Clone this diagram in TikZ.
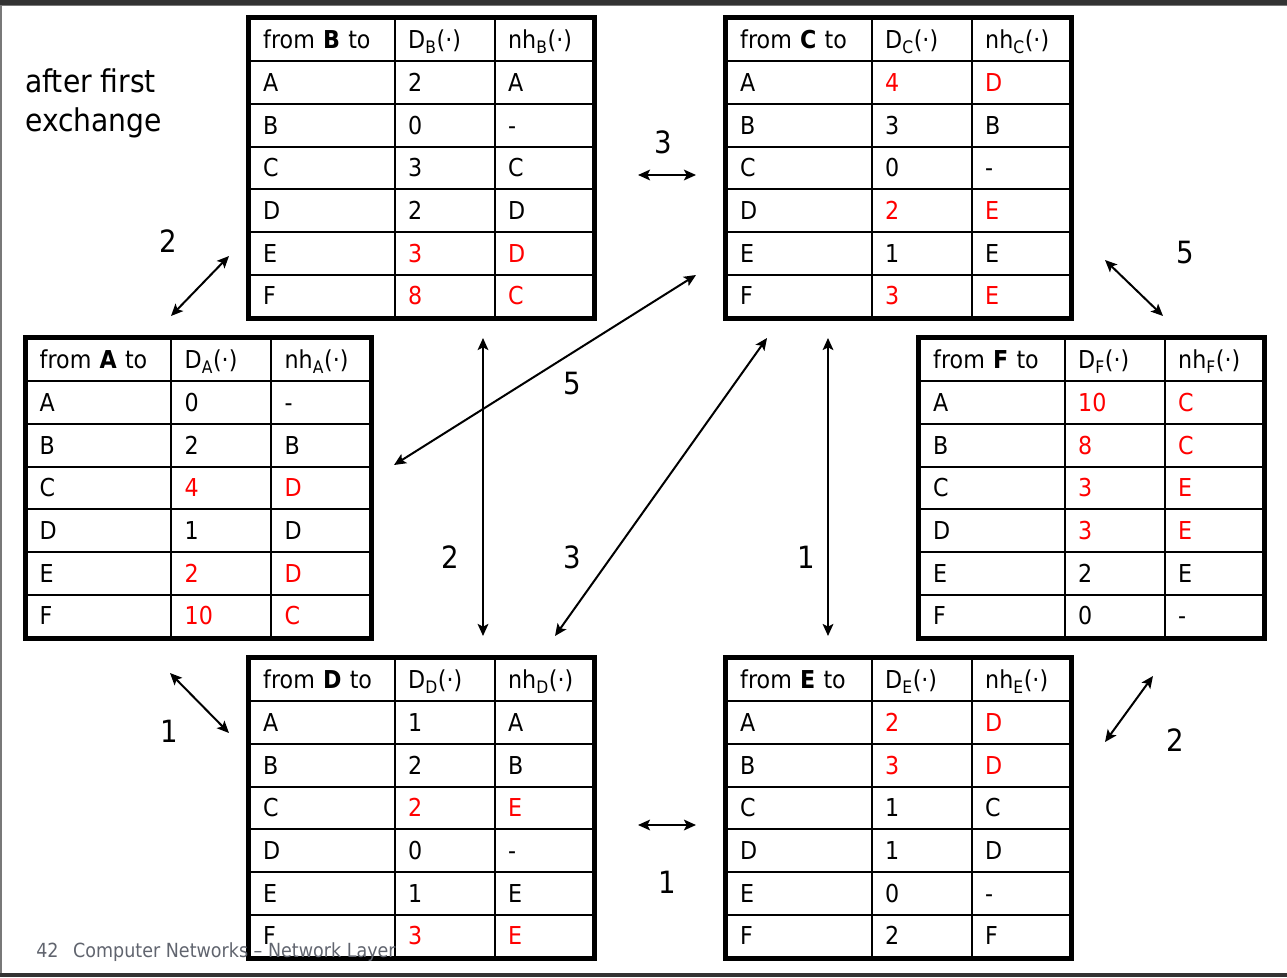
\documentclass[tikz,border=0pt]{standalone}
\usepackage{fontspec}
\setmainfont{DejaVu Sans}[FakeStretch=0.9]
\usetikzlibrary{matrix,arrows.meta}
\definecolor{barcol}{RGB}{51,51,51}
\definecolor{edgegray}{RGB}{120,120,120}
\definecolor{footgray}{RGB}{96,100,110}
\newcommand\cellfont{\fontsize{18.5pt}{22pt}\selectfont}
\newcommand\costfont{\fontsize{23pt}{28pt}\selectfont}
\newcommand\notefont{\fontsize{23.5pt}{29.25pt}\selectfont}
\newcommand\slidefoot{\fontsize{14.6pt}{18pt}\selectfont}

\begin{document}
\begin{tikzpicture}[x=0.75pt,y=-0.75pt,
    rtable/.style={matrix of nodes, anchor=north west, inner sep=0pt,
      column sep=-1.5pt, row sep=-1.5pt,
      nodes={draw, line width=1.5pt, minimum height=32pt, inner xsep=10.1pt, inner ysep=0pt,
        align=left, text height=14pt, text depth=1pt, font=\cellfont},
      column 1/.style={nodes={text width=88.5pt}},
      column 2/.style={nodes={text width=54.8pt}},
      column 3/.style={nodes={text width=54pt}}},
    tabframe/.style={line width=3.75pt},
    upd/.style={text=red},
    link/.style={{Stealth[length=9pt,width=8pt,inset=2pt]}-{Stealth[length=9pt,width=8pt,inset=2pt]}, line width=1.5pt},
    cost/.style={font=\costfont, inner sep=0pt}]

    \useasboundingbox (0,0) rectangle (1287,977);

    % slide frame
    \fill[barcol] (0,0) rectangle (1287,5);
    \draw[edgegray, line width=0.75pt] (0,5.5) -- (1287,5.5);
    \draw[edgegray, line width=1.2pt] (0.8,5) -- (0.8,973);
    \fill[barcol] (0,973) rectangle (1287,977);

    \node[font=\notefont, align=left, anchor=west, inner sep=0pt] (note) at (25,103.5) {after first\\exchange};

    % Routing tables
    \matrix[rtable] (tB) at (248.5,17.5) {
        from \textbf{B} to & D\textsubscript{B}(·) & nh\textsubscript{B}(·) \\
        A & 2 & A \\
        B & 0 & - \\
        C & 3 & C \\
        D & 2 & D \\
        E & |[upd]| 3 & |[upd]| D \\
        F & |[upd]| 8 & |[upd]| C \\
    };
    \draw[tabframe] (tB-1-1.north west) rectangle (tB-7-3.south east);

    \matrix[rtable] (tC) at (725.5,17.5) {
        from \textbf{C} to & D\textsubscript{C}(·) & nh\textsubscript{C}(·) \\
        A & |[upd]| 4 & |[upd]| D \\
        B & 3 & B \\
        C & 0 & - \\
        D & |[upd]| 2 & |[upd]| E \\
        E & 1 & E \\
        F & |[upd]| 3 & |[upd]| E \\
    };
    \draw[tabframe] (tC-1-1.north west) rectangle (tC-7-3.south east);

    \matrix[rtable] (tA) at (25,337.5) {
        from \textbf{A} to & D\textsubscript{A}(·) & nh\textsubscript{A}(·) \\
        A & 0 & - \\
        B & 2 & B \\
        C & |[upd]| 4 & |[upd]| D \\
        D & 1 & D \\
        E & |[upd]| 2 & |[upd]| D \\
        F & |[upd]| 10 & |[upd]| C \\
    };
    \draw[tabframe] (tA-1-1.north west) rectangle (tA-7-3.south east);

    \matrix[rtable] (tF) at (918.5,337.5) {
        from \textbf{F} to & D\textsubscript{F}(·) & nh\textsubscript{F}(·) \\
        A & |[upd]| 10 & |[upd]| C \\
        B & |[upd]| 8 & |[upd]| C \\
        C & |[upd]| 3 & |[upd]| E \\
        D & |[upd]| 3 & |[upd]| E \\
        E & 2 & E \\
        F & 0 & - \\
    };
    \draw[tabframe] (tF-1-1.north west) rectangle (tF-7-3.south east);

    \matrix[rtable] (tD) at (248.5,657.5) {
        from \textbf{D} to & D\textsubscript{D}(·) & nh\textsubscript{D}(·) \\
        A & 1 & A \\
        B & 2 & B \\
        C & |[upd]| 2 & |[upd]| E \\
        D & 0 & - \\
        E & 1 & E \\
        F & |[upd]| 3 & |[upd]| E \\
    };
    \draw[tabframe] (tD-1-1.north west) rectangle (tD-7-3.south east);

    \matrix[rtable] (tE) at (725.5,657.5) {
        from \textbf{E} to & D\textsubscript{E}(·) & nh\textsubscript{E}(·) \\
        A & |[upd]| 2 & |[upd]| D \\
        B & |[upd]| 3 & |[upd]| D \\
        C & 1 & C \\
        D & 1 & D \\
        E & 0 & - \\
        F & 2 & F \\
    };
    \draw[tabframe] (tE-1-1.north west) rectangle (tE-7-3.south east);

    % link ends
    \coordinate (bc1) at (638,175);  \coordinate (bc2) at (696,175);
    \coordinate (ab1) at (171,316);  \coordinate (ab2) at (229,256);
    \coordinate (cf1) at (1105,260); \coordinate (cf2) at (1163,316);
    \coordinate (ca1) at (696,275);  \coordinate (ca2) at (394,465);
    \coordinate (bd1) at (483,338);  \coordinate (bd2) at (483,636);
    \coordinate (cd1) at (767,338);  \coordinate (cd2) at (555,636);
    \coordinate (ce1) at (828,338);  \coordinate (ce2) at (828,636);
    \coordinate (ad1) at (170,673);  \coordinate (ad2) at (229,733);
    \coordinate (de1) at (638,825);  \coordinate (de2) at (696,825);
    \coordinate (fe1) at (1153,676); \coordinate (fe2) at (1105,742);

    % Links
    \draw[link] (bc1) -- (bc2);
    \draw[link] (ab1) -- (ab2);
    \draw[link] (cf1) -- (cf2);
    \draw[link] (ca1) -- (ca2);
    \draw[link] (bd1) -- (bd2);
    \draw[link] (cd1) -- (cd2);
    \draw[link] (ce1) -- (ce2);
    \draw[link] (ad1) -- (ad2);
    \draw[link] (de1) -- (de2);
    \draw[link] (fe1) -- (fe2);

    % link costs
    \node[cost] (wBC) at (663,142) {3};
    \node[cost] (wAB) at (168,241) {2};
    \node[cost] (wCF) at (1185,253) {5};
    \node[cost] (wAC) at (572,384) {5};
    \node[cost] (wBD) at (450,557) {2};
    \node[cost] (wCD) at (572,557) {3};
    \node[cost] (wCE) at (806,557) {1};
    \node[cost] (wAD) at (169,731) {1};
    \node[cost] (wDE) at (667,882) {1};
    \node[cost] (wEF) at (1175,740) {2};

    \node[font=\slidefoot, text=footgray, anchor=base west, inner sep=0pt] (foot) at (36,957) {42\hspace{11pt}Computer Networks – Network Layer};

\end{tikzpicture}
\end{document}
